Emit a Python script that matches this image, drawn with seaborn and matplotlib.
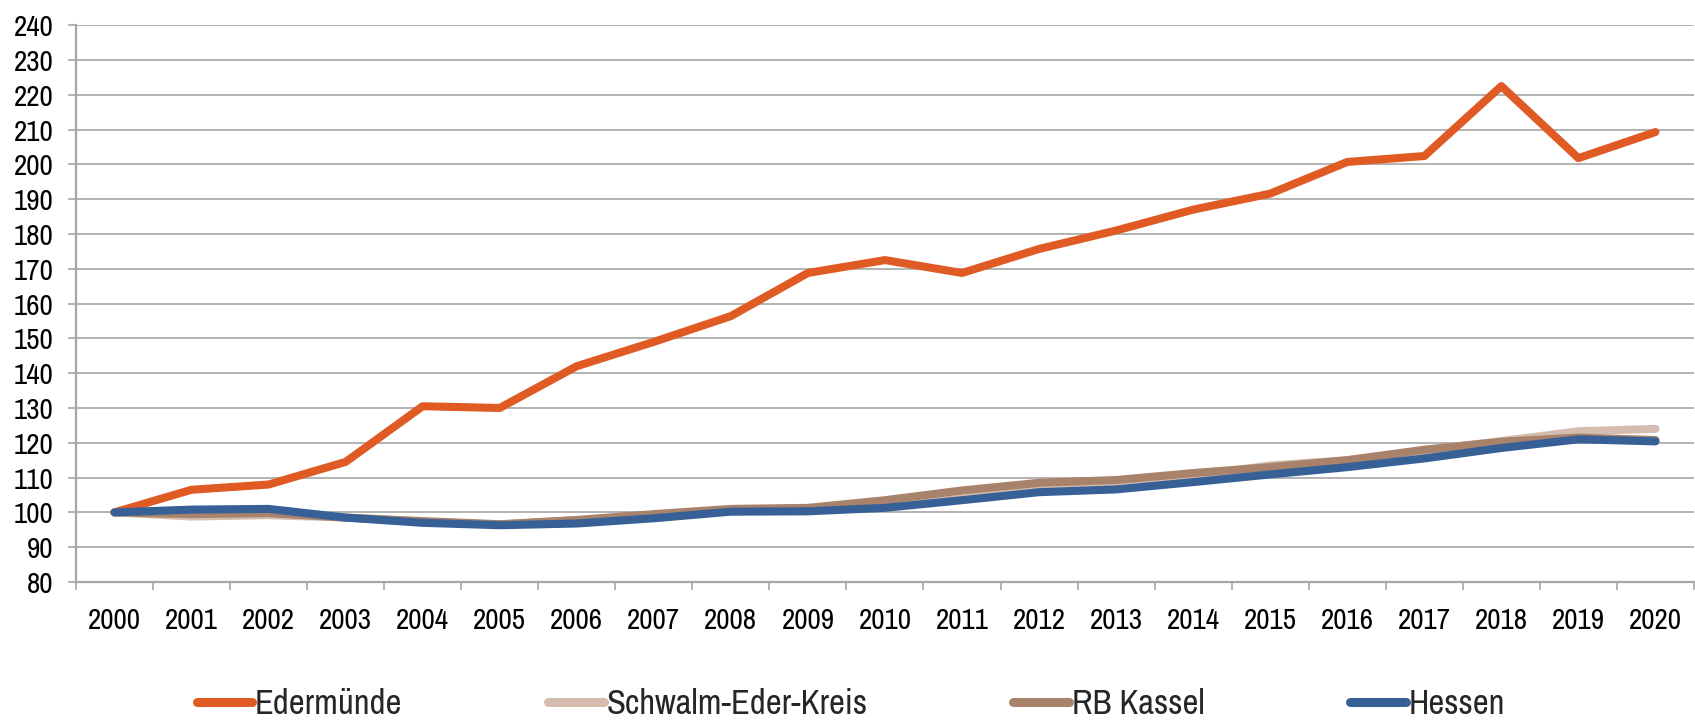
import numpy as np
import pandas as pd
import seaborn as sns
import matplotlib.pyplot as plt
from matplotlib import font_manager as fm
from matplotlib.ticker import MultipleLocator, FixedLocator

years = list(range(2000, 2021))
edermuende = [100, 106.5, 108, 114.5, 130.5, 130, 142, 149, 156.4, 168.8, 172.5,
              168.8, 175.7, 181, 187, 191.6, 200.7, 202.4, 222.5, 201.8, 209.3]
schwalm_eder = [100, 98.8, 99.2, 98.5, 97.3, 96.5, 97.8, 99.3, 100.8, 101, 102.5,
                105, 107.8, 108.5, 110.5, 113.5, 115, 117.8, 120.5, 123.3, 124]
rb_kassel = [100, 99.5, 99.8, 98.5, 97.5, 96.6, 97.8, 99.5, 101, 101.3, 103.5,
             106.3, 108.5, 109.3, 111.3, 113, 115, 118, 120.3, 121.5, 120.8]
hessen = [100, 100.8, 101, 98.5, 97, 96.3, 96.8, 98.3, 100.2, 100.3, 101.3,
          103.5, 105.8, 106.6, 108.7, 110.9, 113, 115.5, 118.5, 121, 120.4]

series = ["Edermünde", "Schwalm-Eder-Kreis", "RB Kassel", "Hessen"]
colors = ["#E05A24", "#D4BDAF", "#A8826A", "#366096"]

df = pd.DataFrame({
    "Jahr": years * 4,
    "Wert": edermuende + schwalm_eder + rb_kassel + hessen,
    "Gebiet": [s for s in series for _ in years],
})

# narrow Arial-like font, whichever is installed
available = {f.name for f in fm.fontManager.ttflist}
candidates = ["Liberation Sans Narrow", "Arimo Narrow", "Archivo Narrow", "PT Sans Narrow",
              "Roboto Condensed", "Open Sans Condensed", "Liberation Sans"]
narrow = next(c for c in candidates if c in available)

sns.set_style("white")
plt.rcParams["font.family"] = [narrow, "DejaVu Sans"]

fig = plt.figure(figsize=(16.95, 7.2), dpi=100)
ax = fig.add_axes([0.0448, 0.1917, 0.9546, 0.7733])

sns.lineplot(data=df, x="Jahr", y="Wert", hue="Gebiet", hue_order=series,
             palette=colors, linewidth=5.8, legend=False, ax=ax,
             solid_capstyle="round", solid_joinstyle="round")

grid_col = "#A6A6A6"
ax.set_ylim(80, 240)
ax.set_xlim(1999.5, 2020.5)
ax.yaxis.set_major_locator(MultipleLocator(10))
ax.set_xticks(years)
ax.set_xticklabels([str(y) for y in years])
ax.xaxis.set_minor_locator(FixedLocator(np.arange(1999.5, 2021, 1)))
ax.yaxis.grid(True, color=grid_col, linewidth=1.2)
ax.set_axisbelow(True)
ax.set_xlabel("")
ax.set_ylabel("")

for side in ["top", "right"]:
    ax.spines[side].set_visible(False)
for side in ["left", "bottom"]:
    ax.spines[side].set_color(grid_col)
    ax.spines[side].set_linewidth(1.6)

ax.tick_params(axis="y", which="major", length=6, width=1.2, color=grid_col,
               pad=10, labelsize=21, labelcolor="black", left=True)
ax.tick_params(axis="x", which="major", length=0, pad=18, labelsize=21,
               labelcolor="black")
ax.tick_params(axis="x", which="minor", length=6, width=1.2, color=grid_col,
               bottom=True, direction="out")

handles = [plt.Line2D([], [], color=c, linewidth=6.5, solid_capstyle="round") for c in colors]
fig.legend(handles, series, loc="center", bbox_to_anchor=(0.502, 0.022), ncol=4,
           frameon=False, fontsize=25, handlelength=1.6, handletextpad=0.08,
           columnspacing=4.2)

fig.savefig("out.png", dpi=100)
